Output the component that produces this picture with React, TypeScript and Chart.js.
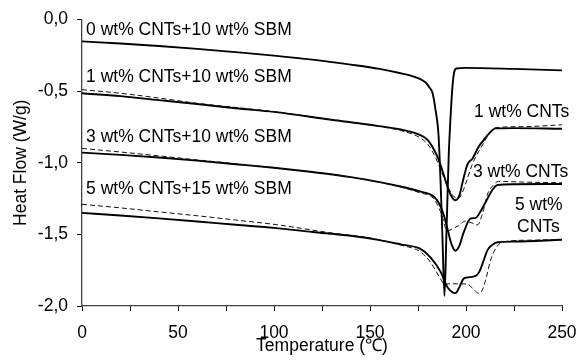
import React, { useEffect, useRef } from "react";
import { Chart, registerables } from "chart.js";

Chart.register(...registerables);

const FONT = '"Liberation Sans", Arial, Helvetica, sans-serif';
const FS = 17.5;

// Temperature (°C) and heat flow (W/g) readings for each curve
const t0 = [0, 20, 40, 60, 80, 100, 120, 140, 155, 166, 172, 176, 179, 181, 182.5, 184, 185.7, 186.8, 187.8, 188.8, 189.8, 191, 192.3, 193, 193.8, 195, 200, 225, 250];
const hf0 = [-0.153, -0.168, -0.185, -0.205, -0.228, -0.252, -0.28, -0.315, -0.345, -0.375, -0.395, -0.415, -0.44, -0.475, -0.51, -0.62, -0.81, -1.15, -1.55, -1.93, -1.5, -0.95, -0.6, -0.46, -0.37, -0.342, -0.338, -0.345, -0.355];

const t1 = [0, 20, 40, 60, 80, 100, 130, 150, 166, 175, 180, 183, 185.5, 188.3, 190.4, 192.5, 194.5, 196.5, 198.5, 200.8, 203.4, 206.5, 209, 211.7, 215.4, 225, 250];
const hf1 = [-0.515, -0.535, -0.563, -0.59, -0.62, -0.645, -0.70, -0.735, -0.768, -0.80, -0.84, -0.90, -0.97, -1.08, -1.17, -1.235, -1.262, -1.23, -1.12, -1.01, -0.97, -0.89, -0.845, -0.80, -0.76, -0.758, -0.763];

const t1d = [0, 20, 40, 60, 100, 130, 150, 166, 172, 176, 180, 184, 187.5, 191, 194, 196, 198, 200.5, 203, 205, 208, 212, 215.5, 230, 250];
const hf1d = [-0.49, -0.515, -0.548, -0.585, -0.643, -0.70, -0.737, -0.775, -0.80, -0.825, -0.87, -0.96, -1.07, -1.18, -1.24, -1.25, -1.21, -1.12, -1.02, -0.96, -0.89, -0.80, -0.755, -0.748, -0.735];

const t3 = [0, 20, 40, 60, 80, 100, 120, 140, 155, 166, 176, 183, 186, 188.3, 190.5, 192.5, 194.5, 196.5, 198.7, 202.3, 205, 208, 211.2, 214, 216.4, 225, 250];
const hf3 = [-0.929, -0.945, -0.963, -0.985, -1.01, -1.035, -1.065, -1.10, -1.135, -1.166, -1.20, -1.234, -1.285, -1.36, -1.47, -1.57, -1.614, -1.58, -1.49, -1.39, -1.385, -1.33, -1.25, -1.185, -1.155, -1.15, -1.148];

const t3d = [0, 20, 40, 60, 100, 140, 166, 176, 183.1, 186.7, 190.4, 193, 196, 199.7, 203, 206, 208.5, 211.2, 214, 216.9, 230, 250];
const hf3d = [-0.90, -0.925, -0.952, -0.98, -1.035, -1.10, -1.17, -1.21, -1.25, -1.34, -1.476, -1.46, -1.44, -1.407, -1.42, -1.434, -1.36, -1.22, -1.16, -1.13, -1.135, -1.14];

const t5 = [0, 20, 40, 60, 80, 100, 120, 140, 155, 166, 176, 181.5, 186.7, 190.4, 192.5, 194.5, 196.5, 198.7, 201, 205, 207, 209, 211.2, 213.5, 216.4, 225, 250];
const hf5 = [-1.35, -1.368, -1.388, -1.41, -1.433, -1.455, -1.483, -1.51, -1.54, -1.57, -1.60, -1.66, -1.76, -1.87, -1.90, -1.91, -1.87, -1.81, -1.80, -1.79, -1.76, -1.69, -1.61, -1.575, -1.555, -1.55, -1.538];

const t5d = [0, 20, 40, 60, 80, 100, 130, 150, 166, 176, 181.5, 186.7, 188.8, 191, 195, 200.8, 203.4, 206.5, 208, 210.2, 212.8, 216.4, 220.6, 235, 250];
const hf5d = [-1.29, -1.315, -1.343, -1.37, -1.40, -1.43, -1.49, -1.525, -1.575, -1.62, -1.694, -1.81, -1.85, -1.845, -1.845, -1.848, -1.876, -1.91, -1.90, -1.82, -1.68, -1.58, -1.55, -1.54, -1.535];

const labels = [
  "0 wt% CNTs+10 wt% SBM",
  "1 wt% CNTs+10 wt% SBM",
  "3 wt% CNTs+10 wt% SBM",
  "5 wt% CNTs+15 wt% SBM",
  "1 wt% CNTs",
  "3 wt% CNTs",
  "5 wt%",
  "CNTs",
];
// annotation anchors in data units (temperature, heat flow)
const labelT = [2.1, 2.1, 2.1, 2.1, 204.2, 203.6, 225.5, 226.6];
const labelHF = [-0.11, -0.434, -0.855, -1.221, -0.683, -1.097, -1.331, -1.483];

const xMin = 0, xMax = 250, xStep = 25, xLabelStep = 50;
const yMin = -2, yMax = 0, yStep = 0.5;

const toPts = (t: number[], v: number[]) => t.map((x, i) => ({ x, y: v[i] }));

const solid = (t: number[], v: number[]) => ({
  data: toPts(t, v),
  borderColor: "#000",
  borderWidth: 1.9,
  pointRadius: 0,
  fill: false,
  cubicInterpolationMode: "monotone" as const,
});
const dashed = (t: number[], v: number[]) => ({
  data: toPts(t, v),
  borderColor: "#111",
  borderWidth: 1,
  borderDash: [5, 3],
  pointRadius: 0,
  fill: false,
  cubicInterpolationMode: "monotone" as const,
});

const textPlugin = {
  id: "textLabels",
  afterDraw(chart: any) {
    const { ctx, scales } = chart;
    ctx.save();
    ctx.fillStyle = "#000";
    ctx.font = `${FS}px ${FONT}`;
    ctx.textAlign = "left";
    ctx.textBaseline = "alphabetic";
    labels.forEach((s, i) => {
      ctx.fillText(s, scales.x.getPixelForValue(labelT[i]), scales.y.getPixelForValue(labelHF[i]));
    });
    ctx.restore();
  },
};

export default function App() {
  const ref = useRef<HTMLCanvasElement>(null);
  useEffect(() => {
    if (!ref.current) return;
    const chart = new Chart(ref.current, {
      type: "line",
      data: {
        datasets: [
          dashed(t1d, hf1d),
          dashed(t3d, hf3d),
          dashed(t5d, hf5d),
          solid(t0, hf0),
          solid(t1, hf1),
          solid(t3, hf3),
          solid(t5, hf5),
        ],
      },
      options: {
        responsive: false,
        animation: false,
        devicePixelRatio: 1,
        layout: { padding: { top: 16, right: 0, left: 0, bottom: 0 } },
        plugins: { legend: { display: false }, tooltip: { enabled: false } },
        scales: {
          x: {
            type: "linear",
            min: xMin,
            max: xMax,
            afterFit: (s: any) => { s.height = 54; s.paddingRight = 14; },
            grid: { drawOnChartArea: false, drawTicks: true, tickLength: 5, tickColor: "#000" },
            border: { display: true, color: "#444", width: 1.3 },
            ticks: {
              stepSize: xStep,
              padding: 11.5,
              color: "#000",
              font: { family: FONT, size: FS },
              maxRotation: 0,
              autoSkip: false,
              callback: (v: any) => (Number(v) % xLabelStep === 0 ? String(v) : ""),
            },
            title: {
              display: true,
              text: "Temperature (℃)",
              color: "#000",
              font: { family: FONT, size: FS },
              padding: { top: 0, bottom: 3 },
            },
          },
          y: {
            type: "linear",
            min: yMin,
            max: yMax,
            afterFit: (s: any) => { s.width = 82; },
            grid: { drawOnChartArea: false, drawTicks: true, tickLength: 5, tickColor: "#000" },
            border: { display: true, color: "#444", width: 1.3 },
            ticks: {
              stepSize: yStep,
              padding: 9,
              color: "#000",
              font: { family: FONT, size: FS },
              callback: (v: any) => {
                const n = Number(v);
                const s = (Math.abs(n) < 1e-9 ? 0 : n).toFixed(1);
                return s.replace(".", ",");
              },
            },
            title: {
              display: true,
              text: "Heat Flow (W/g)",
              color: "#000",
              font: { family: FONT, size: FS },
              padding: { top: 10.5, bottom: 0 },
            },
          },
        },
      },
      plugins: [textPlugin],
    });
    return () => chart.destroy();
  }, []);
  return (
    <div style={{ position: "absolute", left: 0, top: 0, width: 576, height: 360, background: "#fff" }}>
      <canvas ref={ref} width={576} height={360} style={{ display: "block" }} />
    </div>
  );
}
